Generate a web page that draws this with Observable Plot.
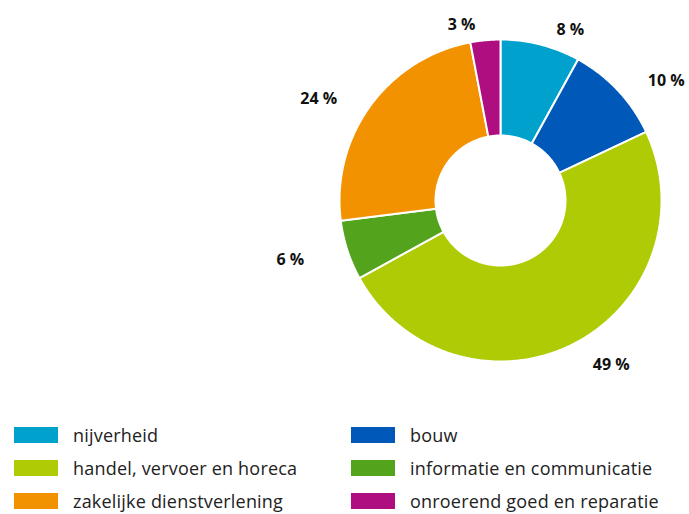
<!DOCTYPE html>
<html><head><meta charset="utf-8">
<script src="https://cdn.jsdelivr.net/npm/d3@7"></script>
<script src="https://cdn.jsdelivr.net/npm/@observablehq/plot@0.6"></script>
<style>
body{margin:0;background:#fff;font-family:"Open Sans",sans-serif;}
#legend{display:grid;grid-template-columns:337px 330px;row-gap:11px;margin-left:14px;margin-top:24px;}
.item{display:flex;align-items:center;font-size:18px;color:#222;height:22px;letter-spacing:0.2px;}
.sw{width:44px;height:16px;margin-right:15px;flex:none;}
</style></head>
<body>
<div id="chart"></div>
<div id="legend"></div>
<script>
const categories = ["nijverheid","bouw","handel, vervoer en horeca","informatie en communicatie","zakelijke dienstverlening","onroerend goed en reparatie"];
const values = [8, 10, 49, 6, 24, 3];
const colors = ["#00a1cd","#0058b8","#afcb05","#53a31d","#f39200","#af0e80"];
const legendOrder = [0,1,2,3,4,5];

const W = 689, H = 400, cx = 500, cy = 200, R = 161;
const innerFrac = 65/161;
const pie = d3.pie().sort(null).value(d => d.value);
const arcs = pie(categories.map((c,i)=>({cat:c, value:values[i]})));

const pts = [];
arcs.forEach(a => {
  const n = Math.max(4, Math.ceil((a.endAngle - a.startAngle) / 0.01));
  for (let k=0;k<=n;k++){ const t=a.startAngle+(a.endAngle-a.startAngle)*k/n; pts.push({cat:a.data.cat, x:Math.sin(t), y:Math.cos(t)}); }
  for (let k=n;k>=0;k--){ const t=a.startAngle+(a.endAngle-a.startAngle)*k/n; pts.push({cat:a.data.cat, x:innerFrac*Math.sin(t), y:innerFrac*Math.cos(t)}); }
});
const labels = arcs.map(a => {
  const m = (a.startAngle+a.endAngle)/2;
  const s = Math.sin(m);
  return {text: a.data.value + " %", x: (200*s + 20*Math.sign(s))/R, y: (180*Math.cos(m) - 4)/R};
});

const plot = Plot.plot({
  width: W, height: H, margin: 0,
  x: {domain:[-1,1], range:[cx-R, cx+R], axis:null},
  y: {domain:[-1,1], range:[cy+R, cy-R], axis:null},
  color: {domain: categories, range: colors},
  marks: [
    Plot.line(pts, {x:"x", y:"y", z:"cat", fill:"cat", stroke:"white", strokeWidth:2, curve:"linear-closed"}),
    Plot.text(labels, {x:"x", y:"y", text:"text", fontSize:16, fontWeight:"bold", fill:"#111", fontFamily:"Open Sans"})
  ]
});
document.getElementById("chart").appendChild(plot);

const lg = document.getElementById("legend");
legendOrder.forEach(i => {
  const d = document.createElement("div"); d.className="item";
  d.innerHTML = `<span class="sw" style="background:${colors[i]}"></span><span>${categories[i]}</span>`;
  lg.appendChild(d);
});
</script>
</body></html>
